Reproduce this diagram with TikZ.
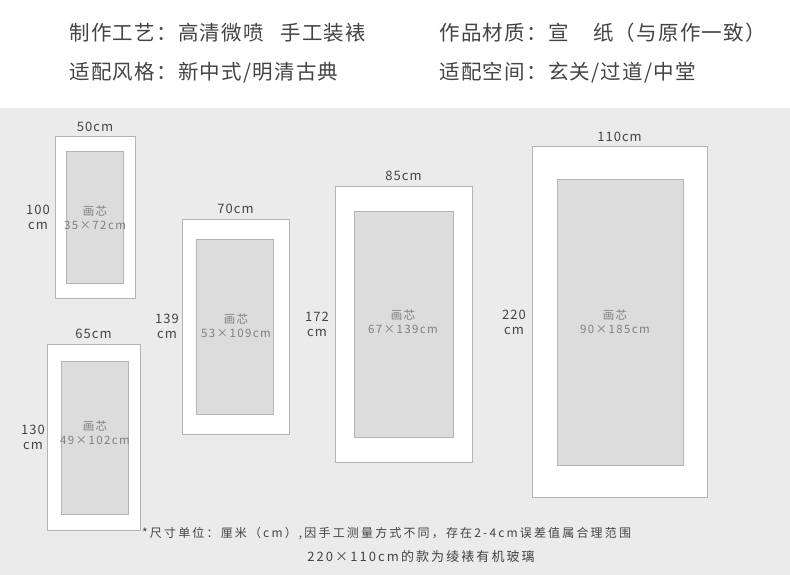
\documentclass[tikz,border=0pt]{standalone}
\usepackage{fontspec}
\setmainfont{Noto Sans CJK SC}
\usetikzlibrary{positioning}
\definecolor{bggray}{HTML}{EBEBEB}
\definecolor{coregray}{HTML}{DCDCDC}
\definecolor{edgegray}{HTML}{B4B4B4}
\definecolor{txtgray}{HTML}{444444}
\tikzset{
  head/.style={anchor=west, text=txtgray, font=\fontsize{20.5}{22}\selectfont\addfontfeature{LetterSpace=6}},
  dim/.style={text=txtgray, font=\fontsize{13}{15}\selectfont\addfontfeature{LetterSpace=8}, align=center, inner sep=0pt},
  core/.style={text=gray, font=\fontsize{11.5}{14}\selectfont\addfontfeature{LetterSpace=12}, align=center, inner sep=0pt},
  note/.style={text=txtgray, font=\fontsize{12}{13}\selectfont\addfontfeature{LetterSpace=18}, inner sep=0pt},
  mount/.style={draw=edgegray, fill=white, line width=1pt},
  paper/.style={draw=edgegray, fill=coregray, line width=1pt}
}
\begin{document}
\begin{tikzpicture}[x=1pt, y=-1pt]
          \fill[white] (0,0) rectangle (790,108);
          \fill[bggray] (0,108) rectangle (790,575);
          \useasboundingbox (0,0) rectangle (790,575);

          \node[head] (craft) at (66, 33) {制作工艺：高清微喷\hspace{0.8em}手工装裱};
          \node[head] (material) at (436, 33) {作品材质：宣\hspace{1.2em}纸（与原作一致）};
          \node[head] (style) at (66, 73) {适配风格：新中式/明清古典};
          \node[head] (space) at (436, 73) {适配空间：玄关/过道/中堂};

          % frame, core, width label, height label, core size
          \foreach \n/\ox/\oy/\ow/\oh/\ix/\iy/\iw/\ih/\w/\h/\hx in {
              a/55/137/135/298/66/152/123/283/50/100/38,
              b/47/344/140/530/61/361/128/514/65/130/33,
              c/182/219/289/434/196/239/273/414/70/139/167,
              d/335/186/472/462/354/211/453/437/85/172/317,
              e/532/147/707/497/557/180/683/465/110/220/514}{
            \draw[mount] (\ox,\oy) rectangle (\ow,\oh);
            \draw[paper] (\ix,\iy) rectangle (\iw,\ih);
            \node[dim, above=5pt] (w\n) at ({(\ox+\ow)/2}, \oy) {\w cm};
            \node[dim] (h\n) at (\hx, {(\oy+\oh)/2}) {\h\\cm};
          }
          \node[core] (pa) at (95, 218) {画芯\\35×72cm};
          \node[core] (pb) at (95, 433) {画芯\\49×102cm};
          \node[core] (pc) at (236, 326) {画芯\\53×109cm};
          \node[core] (pd) at (403, 322) {画芯\\67×139cm};
          \node[core] (pe) at (615, 322) {画芯\\90×185cm};

          \node[note, anchor=west] (note) at (142, 533)
                {*尺寸单位：厘米（cm）,因手工测量方式不同，存在2-4cm误差值属合理范围};
          \node[note, font=\fontsize{13}{14}\selectfont\addfontfeature{LetterSpace=16}] (glass) at (421, 557)
                {220×110cm的款为绫裱有机玻璃};
\end{tikzpicture}
\end{document}
